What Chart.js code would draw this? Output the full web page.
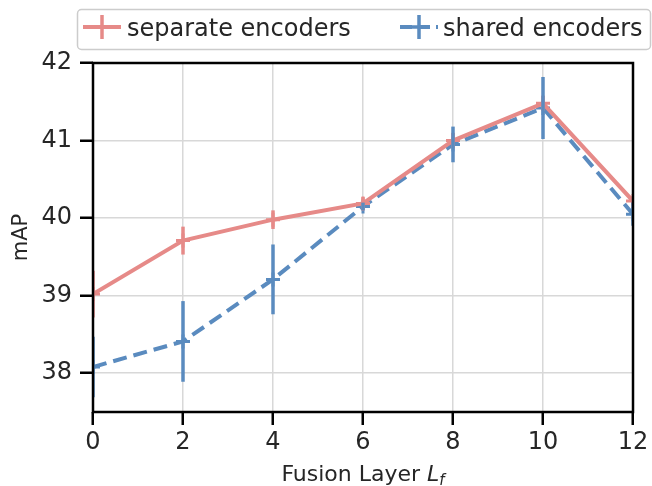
<!DOCTYPE html>
<html>
<head>
<meta charset="utf-8">
<script src="https://cdn.jsdelivr.net/npm/chart.js@4.4.1/dist/chart.umd.min.js"></script>
<style>
    html, body { margin: 0; padding: 0; background: #fff; }
    #wrap { width: 652px; height: 486px; position: relative; }
</style>
</head>
<body>
<div id="wrap"><canvas id="chart"></canvas></div>
<script>
// datos
const layers = [0, 2, 4, 6, 8, 10, 12];
const separateMean = [39.02, 39.71, 39.98, 40.19, 41.0, 41.48, 40.22];
const separateErr = [0.3, 0.18, 0.12, 0.08, 0.1, 0.1, 0.06];
const sharedMean = [38.08, 38.41, 39.21, 40.15, 40.95, 41.42, 40.05];
const sharedErr = [0.39, 0.52, 0.45, 0.05, 0.23, 0.4, 0.15];
const xTicks = [0, 2, 4, 6, 8, 10, 12];
const yTicks = [38, 39, 40, 41, 42];

const rosa = '#e68a88';
const azul = '#5a8bbf';
const font = '"DejaVu Sans", sans-serif';
const textColor = '#262626';

const toPoints = (ys) => layers.map((x, i) => ({ x: x, y: ys[i] }));

// barras de error verticales, dibujadas con las escalas del chart
const errorBars = {
    id: 'errorBars',
    afterDatasetsDraw(chart) {
        const { ctx, chartArea, scales } = chart;
        ctx.save();
        ctx.beginPath();
        ctx.rect(chartArea.left, chartArea.top, chartArea.right - chartArea.left, chartArea.bottom - chartArea.top);
        ctx.clip();
        chart.data.datasets.forEach(ds => {
            ctx.strokeStyle = ds.borderColor;
            ctx.lineWidth = 3.5;
            ds.data.forEach((p, i) => {
                const e = ds.errors[i];
                const x = scales.x.getPixelForValue(p.x);
                ctx.beginPath();
                ctx.moveTo(x, scales.y.getPixelForValue(p.y - e));
                ctx.lineTo(x, scales.y.getPixelForValue(p.y + e));
                ctx.stroke();
            });
        });
        ctx.restore();
    }
};

// marco completo + titulo del eje x con subindice
const frame = {
    id: 'frame',
    afterDraw(chart) {
        const { ctx, chartArea: a } = chart;
        ctx.save();
        ctx.strokeStyle = '#000';
        ctx.lineWidth = 2.5;
        ctx.strokeRect(a.left, a.top, a.right - a.left, a.bottom - a.top);

        // "Fusion Layer L_f"
        ctx.fillStyle = textColor;
        ctx.textBaseline = 'alphabetic';
        const base = 'Fusion Layer ';
        ctx.font = `22px ${font}`;
        const w1 = ctx.measureText(base).width;
        ctx.font = `italic 22px ${font}`;
        const w2 = ctx.measureText('L').width;
        ctx.font = `italic 15px ${font}`;
        const w3 = ctx.measureText('f').width;
        const total = w1 + w2 + w3;
        let x = (a.left + a.right) / 2 - total / 2;
        const y = 481;
        ctx.font = `22px ${font}`;
        ctx.fillText(base, x, y);
        x += w1;
        ctx.font = `italic 22px ${font}`;
        ctx.fillText('L', x, y);
        x += w2;
        ctx.font = `italic 15px ${font}`;
        ctx.fillText('f', x, y + 4);
        ctx.restore();
    }
};

// leyenda a mano, con caja como la de matplotlib
const boxLegend = {
    id: 'boxLegend',
    afterDraw(chart) {
        const ctx = chart.ctx;
        ctx.save();
        ctx.fillStyle = 'rgba(255,255,255,0.9)';
        ctx.strokeStyle = '#cccccc';
        ctx.lineWidth = 1.5;
        ctx.beginPath();
        ctx.roundRect(77.5, 9.5, 573, 40, 4);
        ctx.fill();
        ctx.stroke();

        const items = [
            { ds: chart.data.datasets[0], x: 83, tx: 127 },
            { ds: chart.data.datasets[1], x: 400, tx: 443 }
        ];
        const cy = 27;
        items.forEach(it => {
            ctx.strokeStyle = it.ds.borderColor;
            ctx.lineWidth = 4;
            ctx.setLineDash(it.ds.borderDash ? [12, 6] : []);
            ctx.beginPath();
            ctx.moveTo(it.x, cy);
            ctx.lineTo(it.x + 38, cy);
            ctx.stroke();
            ctx.setLineDash([]);
            ctx.lineWidth = 3.5;
            ctx.beginPath();
            ctx.moveTo(it.x + 19, cy - 12);
            ctx.lineTo(it.x + 19, cy + 12);
            ctx.moveTo(it.x + 12, cy);
            ctx.lineTo(it.x + 26, cy);
            ctx.stroke();
            ctx.fillStyle = textColor;
            ctx.font = `24px ${font}`;
            ctx.textBaseline = 'alphabetic';
            ctx.fillText(it.ds.label, it.tx, 36);
        });
        ctx.restore();
    }
};

const ctx = document.getElementById('chart').getContext('2d');
new Chart(ctx, {
    type: 'line',
    data: {
        datasets: [{
            label: 'separate encoders',
            data: toPoints(separateMean),
            errors: separateErr,
            borderColor: rosa,
            backgroundColor: rosa,
            borderWidth: 4,
            pointStyle: 'cross',
            pointRadius: 7,
            pointBorderWidth: 3,
            tension: 0
        }, {
            label: 'shared encoders',
            data: toPoints(sharedMean),
            errors: sharedErr,
            borderColor: azul,
            backgroundColor: azul,
            borderWidth: 4,
            borderDash: [14, 7],
            pointStyle: 'cross',
            pointRadius: 7,
            pointBorderWidth: 3,
            tension: 0
        }]
    },
    options: {
        responsive: true,
        maintainAspectRatio: false,
        animation: false,
        layout: { padding: { top: 63, right: 19, bottom: 0, left: 0 } },
        plugins: {
            legend: { display: false },
            tooltip: { enabled: false }
        },
        scales: {
            x: {
                type: 'linear',
                min: 0,
                max: 12,
                afterBuildTicks: (s) => { s.ticks = xTicks.map(v => ({ value: v })); },
                afterFit: (s) => { s.height = 74; },
                border: { display: false },
                grid: {
                    color: '#d8d8d8',
                    lineWidth: 1.5,
                    tickColor: '#000',
                    tickWidth: 2.5,
                    tickLength: 13
                },
                ticks: {
                    color: textColor,
                    font: { family: font, size: 24 },
                    padding: 3,
                    maxRotation: 0
                }
            },
            y: {
                min: 37.5,
                max: 42,
                afterBuildTicks: (s) => { s.ticks = yTicks.map(v => ({ value: v })); },
                afterFit: (s) => { s.width = 93; },
                border: { display: false },
                grid: {
                    color: '#d8d8d8',
                    lineWidth: 1.5,
                    tickColor: '#000',
                    tickWidth: 2.5,
                    tickLength: 13
                },
                ticks: {
                    color: textColor,
                    font: { family: font, size: 24 },
                    padding: 8
                },
                title: {
                    display: true,
                    text: 'mAP',
                    color: textColor,
                    font: { family: font, size: 21 },
                    padding: { top: 9, bottom: 0 }
                }
            }
        }
    },
    plugins: [errorBars, frame, boxLegend]
});
</script>
</body>
</html>
